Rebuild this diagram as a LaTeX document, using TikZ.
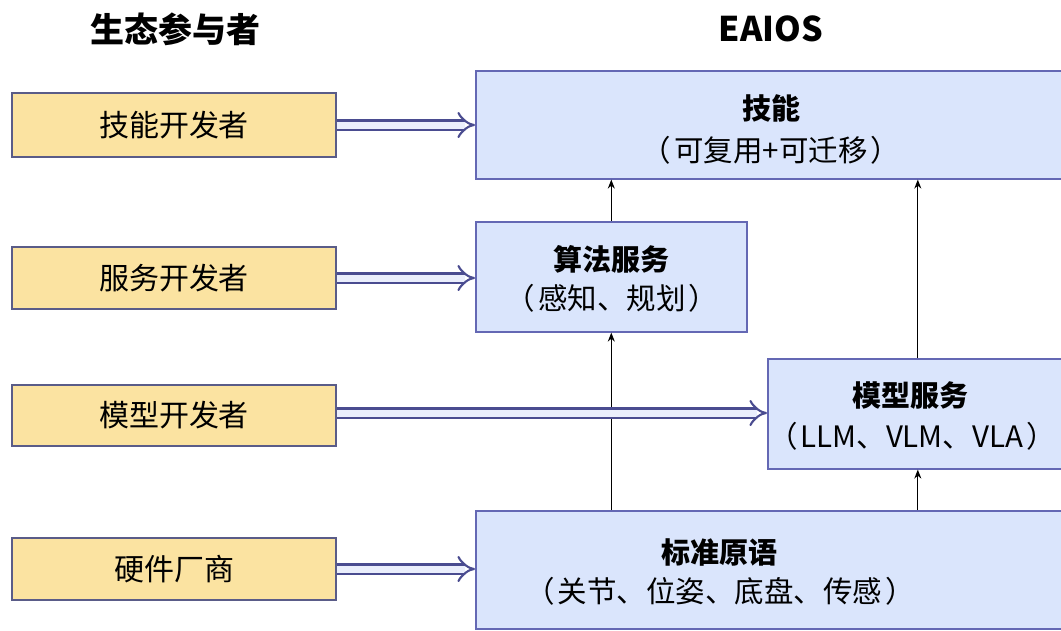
\documentclass[tikz,border=0pt]{standalone}
\usepackage{fontspec}
\setmainfont{Noto Sans CJK SC}
\usetikzlibrary{arrows.meta}
\definecolor{yfill}{HTML}{FBE3A1}
\definecolor{ydraw}{HTML}{5A5C88}
\definecolor{bfill}{HTML}{DAE5FC}
\definecolor{bdraw}{HTML}{6468B4}
\definecolor{afill}{HTML}{EAEEFC}
\definecolor{adraw}{HTML}{4A4C90}
\tikzset{
  devbox/.style={draw=ydraw, fill=yfill, line width=1.6pt, minimum width=324pt, inner sep=0pt, font=\fontsize{30}{36}\selectfont},
  osbox/.style={draw=bdraw, fill=bfill, line width=1.6pt, anchor=north west, inner sep=0pt},
  boxtitle/.style={font=\fontsize{29}{34}\selectfont\bfseries, inner sep=0pt},
  boxsub/.style={font=\fontsize{29.5}{34}\selectfont, inner sep=0pt},
  header/.style={font=\fontsize{34}{40}\selectfont\bfseries, inner sep=0pt},
  darrow/.style={draw=adraw, line width=2.1pt, double=afill, double distance=7pt, -{Implies}},
  varrow/.style={draw=black, line width=1.1pt, -{Stealth[length=9pt,width=7pt]}}
}
\newcommand{\lp}{（\hspace{3pt}}
\newcommand{\rp}{\hspace{3pt}）}
\begin{document}
\begin{tikzpicture}[x=1pt,y=-1pt]
\useasboundingbox (0,0) rectangle (1061,630);
\clip (0,0) rectangle (1061,630);
\fill[white] (0,0) rectangle (1061,630);

% headers
\node[header] (hdev) at (175,29) {生态参与者};
\node[header] (hos) at (771,29) {EAIOS};

% ecosystem participants
\node[devbox, minimum height=64pt] (dev1) at (174,125) {技能开发者};
\node[devbox, minimum height=62pt] (dev2) at (174,278) {服务开发者};
\node[devbox, minimum height=61pt] (dev3) at (174,415.5) {模型开发者};
\node[devbox, minimum height=62pt] (dev4) at (174,569) {硬件厂商};

% EAIOS boxes
\node[osbox, minimum width=610pt, minimum height=108pt] (skill) at (475,70) {};
\node[osbox, minimum width=271pt, minimum height=110pt] (algo) at (475,221) {};
\node[osbox, minimum width=300pt, minimum height=110pt] (model) at (767,358) {};
\node[osbox, minimum width=610pt, minimum height=118pt] (prim) at (475,510) {};

% labels
\node[boxtitle] (skillT) at (771,108) {技能};
\node[boxsub] (skillS) at (771,150) {\lp 可复用+可迁移\rp};
\node[boxtitle] (algoT) at (611,259) {算法服务};
\node[boxsub] (algoS) at (612,298) {\lp 感知、规划\rp};
\node[boxtitle] (modelT) at (910,395) {模型服务};
\node[boxsub] (modelS) at (912,436) {\lp LLM、VLM、VLA\rp};
\node[boxtitle] (primT) at (719,552) {标准原语};
\node[boxsub] (primS) at (720,591) {\lp 关节、位姿、底盘、传感\rp};

% vertical arrows
\draw[varrow] (algo.north) -- (algo.north |- skill.south);
\draw[varrow] (prim.north -| algo.south) -- (algo.south);
\draw[varrow] (model.north) -- (model.north |- skill.south);
\draw[varrow] (prim.north -| model.south) -- (model.south);

% participant arrows
\draw[darrow] (dev1.east) -- (dev1.east -| skill.west);
\draw[darrow] (dev2.east) -- (dev2.east -| algo.west);
\draw[darrow] ([yshift=2.5pt]dev3.east) -- ([yshift=2.5pt]dev3.east -| model.west);
\draw[darrow] (dev4.east) -- (dev4.east -| prim.west);
\end{tikzpicture}
\end{document}
